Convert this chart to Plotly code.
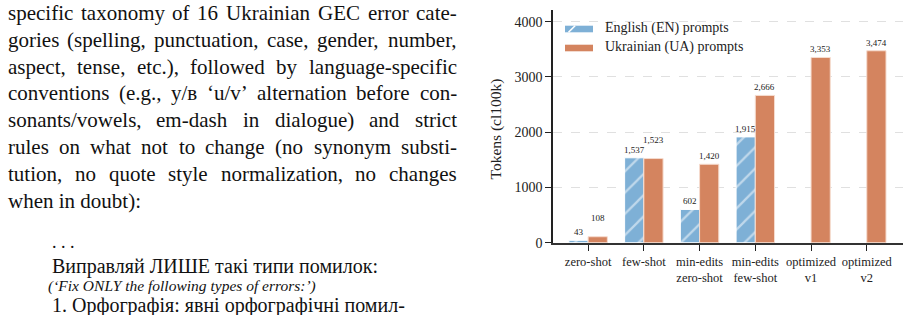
import plotly.graph_objects as go

# ---------------- data ----------------
categories = ["zero-shot", "few-shot", "min-edits<br>zero-shot", "min-edits<br>few-shot",
              "optimized<br>v1", "optimized<br>v2"]
en_tokens = [43, 1537, 602, 1915, None, None]
ua_tokens = [108, 1523, 1420, 2666, 3353, 3474]
y_ticks = [0, 1000, 2000, 3000, 4000]
y_title = "Tokens (cl100k)"
series_names = ["English (EN) prompts", "Ukrainian (UA) prompts"]

body_lines = [
    "specific taxonomy of 16 Ukrainian GEC error cate-",
    "gories (spelling, punctuation, case, gender, number,",
    "aspect, tense, etc.), followed by language-specific",
    "conventions (e.g., у/в ‘u/v’ alternation before con-",
    "sonants/vowels, em-dash in dialogue) and strict",
    "rules on what not to change (no synonym substi-",
    "tution, no quote style normalization, no changes",
    "when in doubt):",
]
code_lines = [
    ". . .",
    "Виправляй ЛИШЕ такі типи помилок:",
    "<i>(‘Fix ONLY the following types of errors:’)</i>",
    "1. Орфографія: явні орфографічні помил-",
]

W, H = 910, 315
BLUE = "#7EB0D6"
ORANGE = "#D4845F"
SERIF = "Liberation Serif"

# Times / Liberation Serif advance widths (1/1000 em) for justification
_TW = {" ": 250, "!": 333, "(": 333, ")": 333, ",": 250, "-": 333, ".": 250, "/": 278,
       ":": 278, "‘": 333, "’": 333,
       "A": 722, "B": 667, "C": 667, "D": 722, "E": 611, "F": 556, "G": 722, "H": 722,
       "I": 333, "J": 389, "K": 722, "L": 611, "M": 889, "N": 722, "O": 722, "P": 556,
       "Q": 722, "R": 667, "S": 556, "T": 611, "U": 722, "V": 722, "W": 944, "X": 722,
       "Y": 722, "Z": 611,
       "a": 444, "b": 500, "c": 444, "d": 500, "e": 444, "f": 333, "g": 500, "h": 500,
       "i": 278, "j": 278, "k": 500, "l": 278, "m": 778, "n": 500, "o": 500, "p": 500,
       "q": 500, "r": 333, "s": 389, "t": 278, "u": 500, "v": 500, "w": 722, "x": 500,
       "y": 500, "z": 444, "у": 500, "в": 472}
for d in "0123456789":
    _TW[d] = 500


def text_w(s, size):
    return sum(_TW.get(c, 500) for c in s) * size / 1000.0


def px(x):
    return x / W


def py(y):
    return 1 - y / H


x_idx = list(range(len(categories)))

fig = go.Figure()
fig.add_trace(go.Bar(
    x=x_idx, y=en_tokens, name=series_names[0], showlegend=False,
    marker=dict(color=BLUE, line=dict(color="white", width=1),
                pattern=dict(shape="/", fgcolor="white", bgcolor=BLUE, size=15, solidity=0.15)),
))
fig.add_trace(go.Bar(
    x=x_idx, y=ua_tokens, name=series_names[1], showlegend=False,
    marker=dict(color=ORANGE, line=dict(color="#F6DCCF", width=1)),
))

# value labels
half = 0.1725
nudge_en = {}
nudge_ua = {0: 11, 1: 11}
annotations = []
for i, v in enumerate(en_tokens):
    if v is None:
        continue
    annotations.append(dict(x=i - half, y=v, xref="x", yref="y", text=f"{v:,}",
                            showarrow=False, yanchor="middle", yshift=8 + nudge_en.get(i, 0),
                            font=dict(family=SERIF, size=9, color="#222")))
for i, v in enumerate(ua_tokens):
    if v is None:
        continue
    annotations.append(dict(x=i + half, y=v, xref="x", yref="y", text=f"{v:,}",
                            showarrow=False, yanchor="middle", yshift=8 + nudge_ua.get(i, 0),
                            font=dict(family=SERIF, size=9, color="#222")))

# y-axis title
annotations.append(dict(x=px(495), y=py(128.5), xref="paper", yref="paper", text=y_title,
                        textangle=-90, showarrow=False, xanchor="center", yanchor="middle",
                        borderpad=0, borderwidth=0,
                        font=dict(family=SERIF, size=15.5, color="#222")))

# legend (swatch + label)
shapes = []
leg_rows = [29, 48]
leg_colors = [BLUE, ORANGE]
for name, col, yc in zip(series_names, leg_colors, leg_rows):
    shapes.append(dict(type="rect", xref="paper", yref="paper",
                       x0=px(565), x1=px(593), y0=py(yc + 3.3), y1=py(yc - 3.3),
                       fillcolor=col, line=dict(width=0)))
    annotations.append(dict(x=px(605), y=py(yc - 1.5), xref="paper", yref="paper", text=name,
                            showarrow=False, xanchor="left", yanchor="middle",
                            borderpad=0, borderwidth=0,
                            font=dict(family=SERIF, size=14, color="#222")))
# hatch stroke on the EN swatch
yc0 = leg_rows[0]
shapes.append(dict(type="line", xref="paper", yref="paper",
                   x0=px(568.5), y0=py(yc0 + 3.3), x1=px(575.1), y1=py(yc0 - 3.3),
                   line=dict(color="white", width=1.6)))

# left-hand justified paragraph
BODY_SIZE = 21
LEFT, RIGHT = 7.5, 457
for k, line in enumerate(body_lines):
    yc = 13 + 26.8 * k
    words = line.split(" ")
    last = (k == len(body_lines) - 1)
    if last or len(words) == 1:
        annotations.append(dict(x=px(LEFT), y=py(yc), xref="paper", yref="paper", text=line,
                                showarrow=False, xanchor="left", yanchor="middle",
                                borderpad=0, borderwidth=0,
                                font=dict(family=SERIF, size=BODY_SIZE, color="#111")))
        continue
    widths = [text_w(w, BODY_SIZE) for w in words]
    gap = (RIGHT - LEFT - sum(widths)) / (len(words) - 1)
    xpos = LEFT
    for j, (wd, ww) in enumerate(zip(words, widths)):
        if j == len(words) - 1:
            annotations.append(dict(x=px(RIGHT), y=py(yc), xref="paper", yref="paper", text=wd,
                                    showarrow=False, xanchor="right", yanchor="middle",
                                    borderpad=0, borderwidth=0,
                                    font=dict(family=SERIF, size=BODY_SIZE, color="#111")))
        else:
            annotations.append(dict(x=px(xpos), y=py(yc), xref="paper", yref="paper", text=wd,
                                    showarrow=False, xanchor="left", yanchor="middle",
                                    borderpad=0, borderwidth=0,
                                    font=dict(family=SERIF, size=BODY_SIZE, color="#111")))
        xpos += ww + gap

# prompt excerpt
code_y = [242, 266, 286, 305]
code_x = [52, 52, 48, 52]
code_size = [18, 20, 15.5, 20]
for txt, yc, xc, sz in zip(code_lines, code_y, code_x, code_size):
    annotations.append(dict(x=px(xc), y=py(yc), xref="paper", yref="paper", text=txt,
                            showarrow=False, xanchor="left", yanchor="middle",
                            borderpad=0, borderwidth=0,
                            font=dict(family=SERIF, size=sz, color="#111")))

fig.update_layout(
    width=W, height=H,
    margin=dict(l=0, r=0, t=0, b=0, autoexpand=False),
    paper_bgcolor="white", plot_bgcolor="white",
    barmode="group", bargap=0.31, bargroupgap=0,
    showlegend=False,
    annotations=annotations,
    shapes=shapes,
    xaxis=dict(domain=[553 / W, 903 / W], range=[-0.63, 5.65], automargin=False,
               tickmode="array", tickvals=x_idx, ticktext=categories,
               ticks="outside", ticklen=6, tickwidth=1.2, tickcolor="#222",
               showline=True, linecolor="#333", linewidth=1.6, showgrid=False, zeroline=False,
               tickfont=dict(family=SERIF, size=12.5, color="#222")),
    yaxis=dict(domain=[72.3 / H, 305 / H], range=[0, 4212], automargin=False,
               tickmode="array", tickvals=y_ticks, ticktext=[str(t) for t in y_ticks],
               ticks="outside", ticklen=6, tickwidth=1.2, tickcolor="#222",
               showline=True, linecolor="#222", linewidth=1.6,
               showgrid=True, gridcolor="#E0E0E0", griddash="dash", gridwidth=0.8,
               zeroline=False,
               tickfont=dict(family=SERIF, size=14, color="#222")),
)

fig.write_html("out.html")
